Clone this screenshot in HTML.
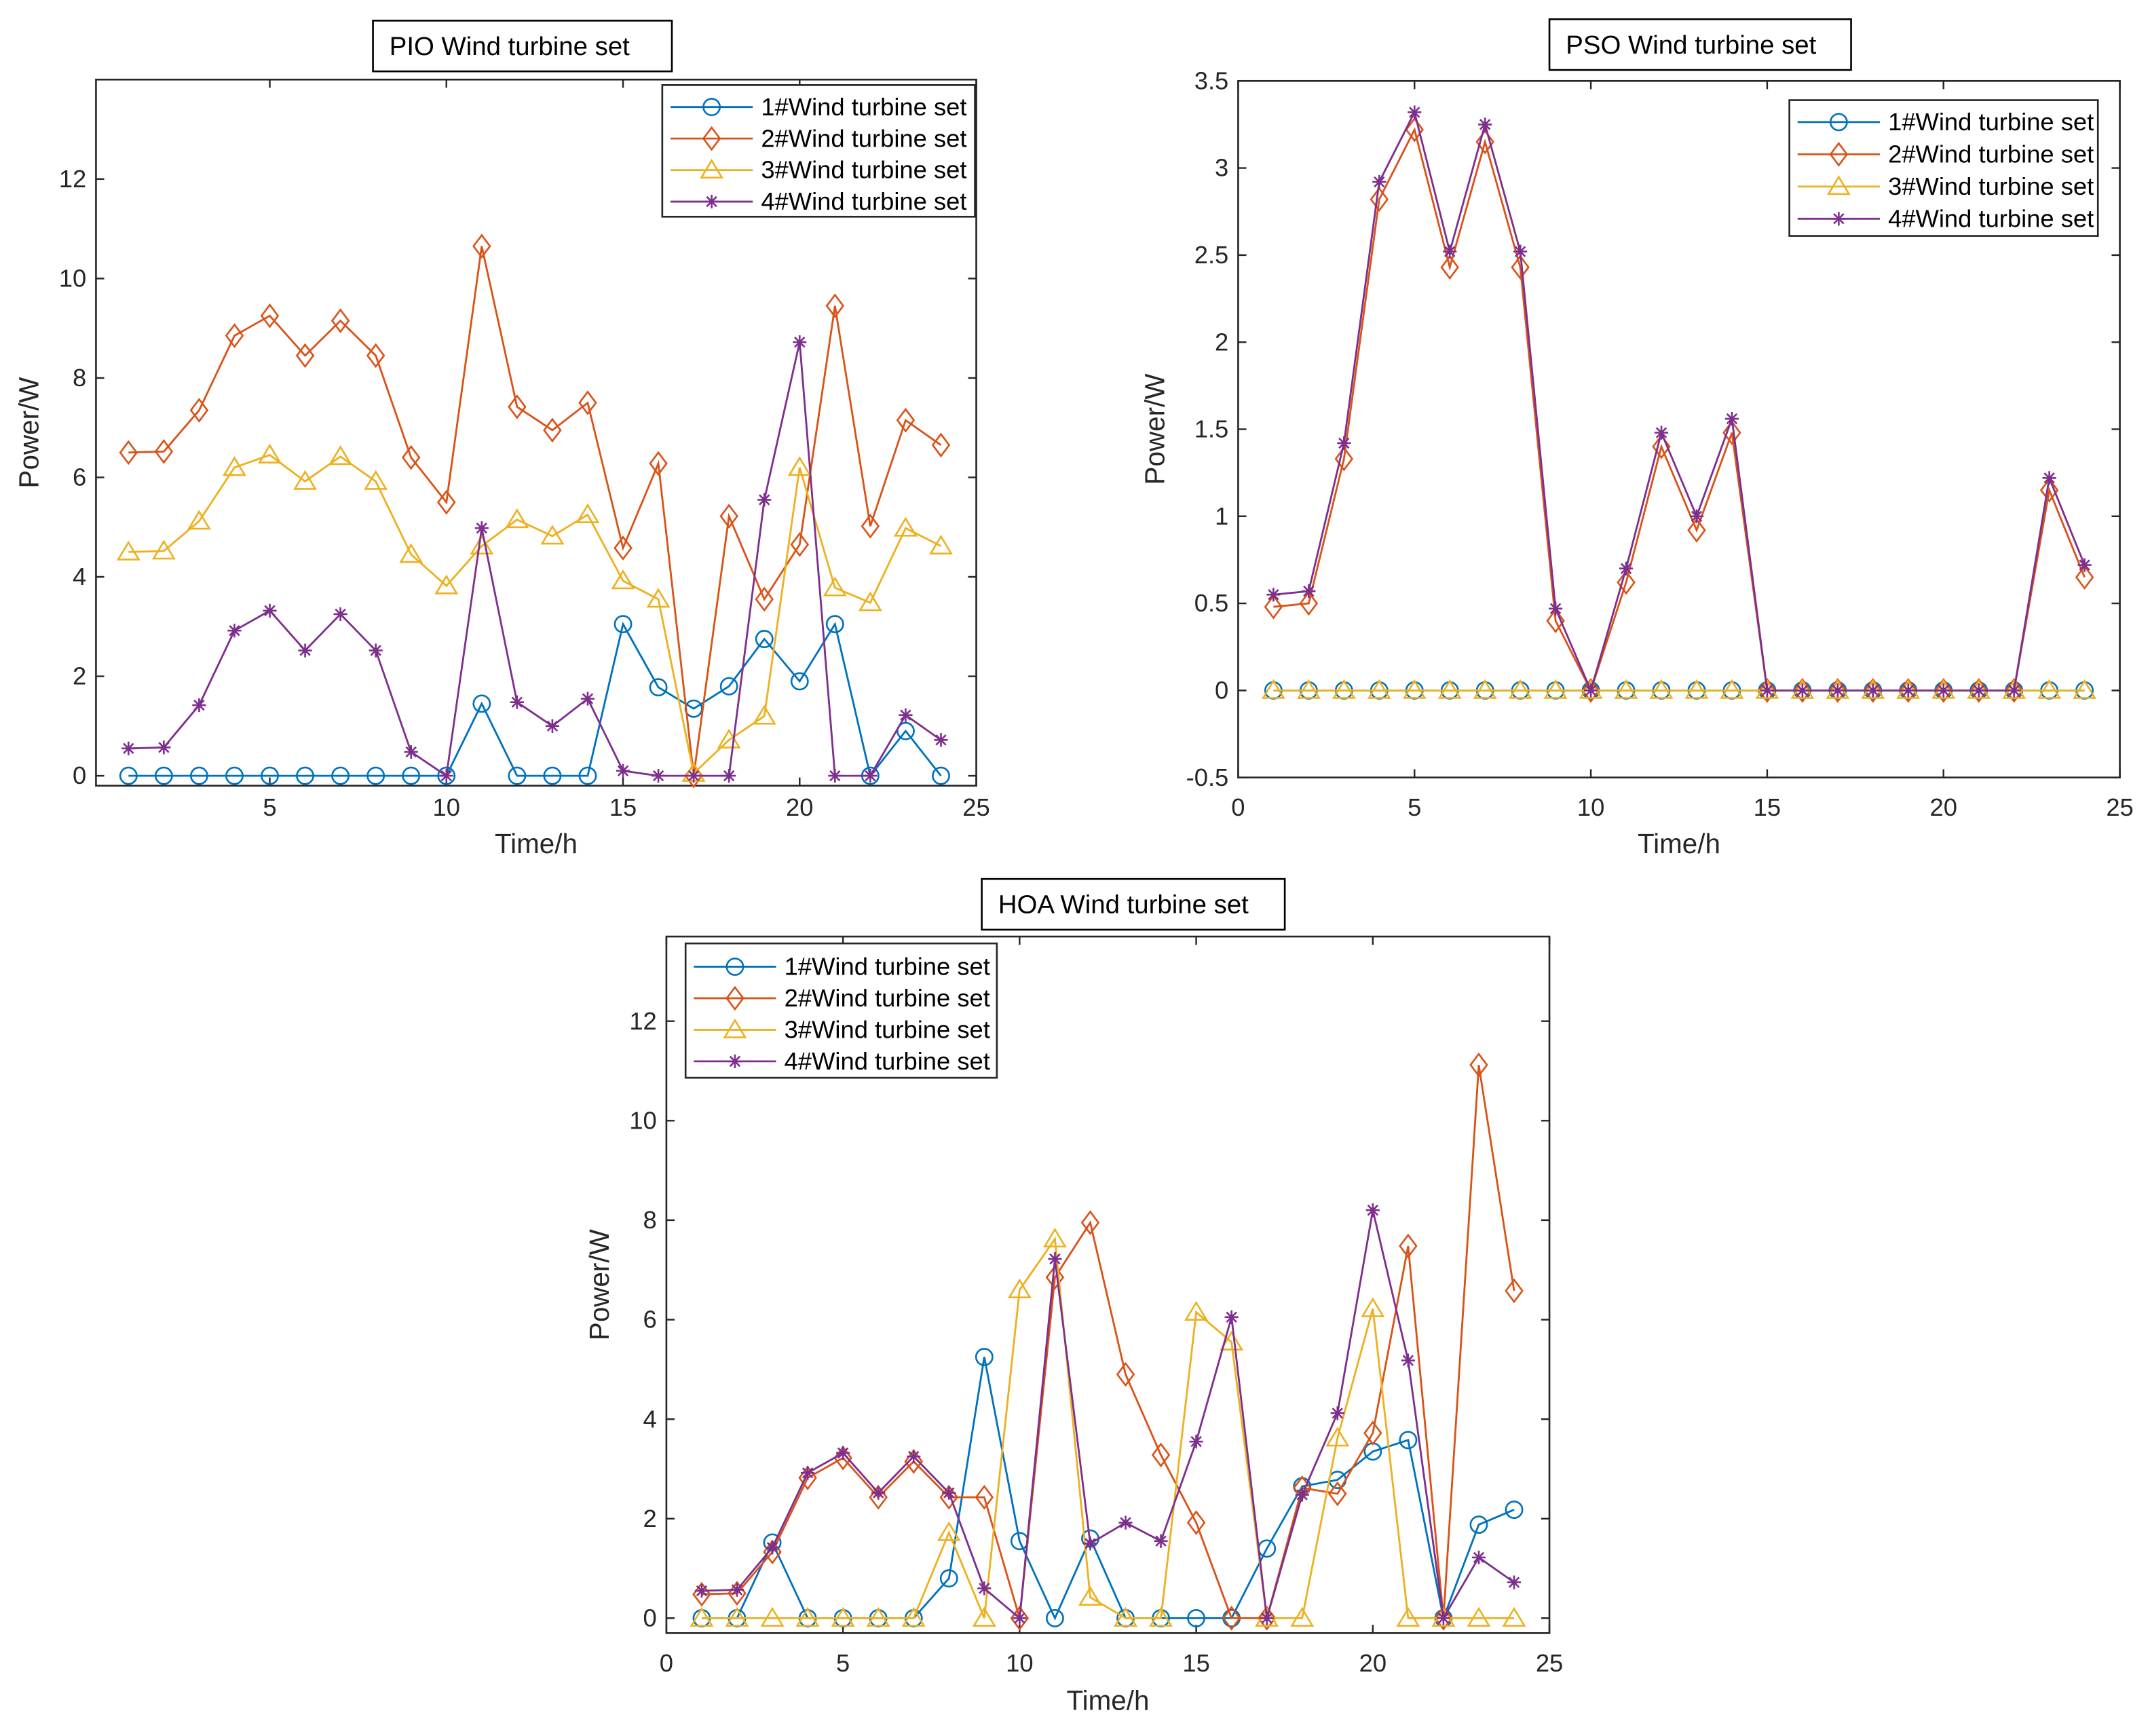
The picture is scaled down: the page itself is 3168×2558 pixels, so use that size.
<!DOCTYPE html>
<html><head><meta charset="utf-8"><style>
html,body{margin:0;padding:0;background:#fff}
svg{display:block;font-family:"Liberation Sans",Arial,sans-serif}
</style></head><body>
<svg id="fig" width="3168" height="2558" viewBox="0 0 1568 1266" xmlns="http://www.w3.org/2000/svg"></svg>
<script>
const hours = [1,2,3,4,5,6,7,8,9,10,11,12,13,14,15,16,17,18,19,20,21,22,23,24];
const seriesNames = ["1#Wind turbine set","2#Wind turbine set","3#Wind turbine set","4#Wind turbine set"];
const pio1 = [0,0,0,0,0,0,0,0,0,0,1.45,0,0,0,3.05,1.78,1.35,1.8,2.75,1.9,3.05,0,0.9,0];
const pio2 = [6.5,6.52,7.35,8.85,9.25,8.45,9.15,8.45,6.4,5.5,10.65,7.42,6.95,7.5,4.58,6.28,0,5.22,3.55,4.65,9.45,5.02,7.15,6.65];
const pio3 = [4.5,4.52,5.12,6.2,6.45,5.92,6.42,5.92,4.45,3.82,4.62,5.15,4.82,5.25,3.92,3.55,0.05,0.72,1.2,6.2,3.78,3.48,4.98,4.62];
const pio4 = [0.55,0.57,1.42,2.92,3.32,2.52,3.25,2.52,0.48,0,4.98,1.48,1.0,1.55,0.1,0,0,0,5.55,8.72,0,0,1.22,0.72];
const pso1 = [0,0,0,0,0,0,0,0,0,0,0,0,0,0,0,0,0,0,0,0,0,0,0,0];
const pso2 = [0.48,0.5,1.33,2.82,3.22,2.43,3.15,2.43,0.4,0,0.62,1.4,0.92,1.48,0,0,0,0,0,0,0,0,1.15,0.65];
const pso3 = [0,0,0,0,0,0,0,0,0,0,0,0,0,0,0,0,0,0,0,0,0,0,0,0];
const pso4 = [0.55,0.57,1.42,2.92,3.32,2.52,3.25,2.52,0.47,0,0.7,1.48,1.0,1.56,0,0,0,0,0,0,0,0,1.22,0.72];
const hoa1 = [0,0,1.52,0,0,0,0,0.8,5.25,1.55,0,1.6,0,0,0,0,1.4,2.65,2.78,3.35,3.58,0,1.88,2.18];
const hoa2 = [0.48,0.5,1.33,2.82,3.22,2.43,3.15,2.43,2.43,0,6.85,7.95,4.9,3.28,1.92,0,0,2.62,2.5,3.72,7.48,0,11.12,6.58];
const hoa3 = [0,0,0,0,0,0,0,1.72,0,6.6,7.62,0.42,0,0,6.15,5.55,0,0,3.62,6.22,0,0,0,0];
const hoa4 = [0.55,0.57,1.42,2.92,3.32,2.52,3.25,2.52,0.6,0,7.22,1.5,1.92,1.55,3.55,6.05,0,2.48,4.12,8.2,5.18,0,1.22,0.72];
const xTicks1 = [5,10,15,20,25];
const xTicks0 = [0,5,10,15,20,25];
const yTicksW = [0,2,4,6,8,10,12];
const yTicksPSO = [-0.5,0,0.5,1,1.5,2,2.5,3,3.5];

const colors = ["#0072BD","#D95319","#EDB120","#7E2F8E"];
const markers = ["circle","diamond","triangle","star"];
const NS = "http://www.w3.org/2000/svg";
const svg = document.getElementById("fig");
function mk(tag, attrs, parent){
  const e = document.createElementNS(NS, tag);
  for (const k in attrs) e.setAttribute(k, attrs[k]);
  (parent||svg).appendChild(e);
  return e;
}
function marker(g, type, x, y, c){
  let e;
  if (type==="circle"){ e = mk("circle",{cx:x,cy:y,r:6,fill:"none",stroke:c,"stroke-width":1.3},g); }
  else if (type==="diamond"){ e = mk("path",{d:`M${x} ${y-8}L${x+6} ${y}L${x} ${y+8}L${x-6} ${y}Z`,fill:"none",stroke:c,"stroke-width":1.3},g); }
  else if (type==="triangle"){ e = mk("path",{d:`M${x} ${y-7}L${x+7.5} ${y+5.5}L${x-7.5} ${y+5.5}Z`,fill:"none",stroke:c,"stroke-width":1.3},g); }
  else { e = mk("path",{d:`M${x-5} ${y}H${x+5}M${x} ${y-5}V${y+5}M${x-3.6} ${y-3.6}L${x+3.6} ${y+3.6}M${x-3.6} ${y+3.6}L${x+3.6} ${y-3.6}`,fill:"none",stroke:c,"stroke-width":1.3},g); }
  return e;
}
function panel(o){
  const g = mk("g",{});
  
  
  const X = v => o.x0 + (v - o.xmin)/(o.xmax - o.xmin)*(o.x1 - o.x0);
  const Y = v => o.y1 - (v - o.ymin)/(o.ymax - o.ymin)*(o.y1 - o.y0);
  mk("rect",{x:o.x0,y:o.y0,width:o.x1-o.x0,height:o.y1-o.y0,fill:"#fff",stroke:"#262626","stroke-width":1.3},g);
  const ax = mk("g",{},g);
  
  
  o.xt.forEach(t=>{
    const x = X(t);
    mk("path",{d:`M${x} ${o.y1}V${o.y1-6}M${x} ${o.y0}V${o.y0+6}`,stroke:"#262626","stroke-width":1.2},ax);
    const tx = mk("text",{x:x,y:o.xty,"text-anchor":"middle","font-size":18,fill:"#262626"},ax);
    tx.textContent = t;
  });
  const ay = mk("g",{},g);
  
  
  o.yt.forEach(t=>{
    const y = Y(t);
    mk("path",{d:`M${o.x0} ${y}H${o.x0+6}M${o.x1} ${y}H${o.x1-6}`,stroke:"#262626","stroke-width":1.2},ay);
    const tx = mk("text",{x:o.x0-7,y:y+6,"text-anchor":"end","font-size":18,fill:"#262626"},ay);
    tx.textContent = t;
  });
  const xl = mk("text",{x:(o.x0+o.x1)/2,y:o.xly,"text-anchor":"middle","font-size":20,fill:"#262626"},g);
  
  
  xl.textContent = "Time/h";
  const yl = mk("text",{x:0,y:0,"text-anchor":"middle","font-size":20,fill:"#262626",transform:`translate(${o.ylx},${(o.y0+o.y1)/2}) rotate(-90)`},g);
  
  
  yl.textContent = "Power/W";
  o.data.forEach((arr,i)=>{
    const sg = mk("g",{},g);
    
    
    const pts = hours.map((h,j)=>X(h)+","+Y(arr[j])).join(" ");
    mk("polyline",{points:pts,fill:"none",stroke:colors[i],"stroke-width":1.4},sg);
    hours.forEach((h,j)=>{
      const m = marker(sg, markers[i], X(h), Y(arr[j]), colors[i]);
      
      
    });
  });
  const tg = mk("g",{},g);
  
  
  mk("rect",{x:o.tb[0],y:o.tb[1],width:o.tb[2],height:o.tb[3],fill:"#fff",stroke:"#000","stroke-width":1.3},tg);
  const tt = mk("text",{x:o.tb[0]+12,y:o.tb[1]+25,"font-size":19,fill:"#000"},tg);
  tt.textContent = o.title;
  const lg = mk("g",{},g);
  
  
  const L = o.lg;
  mk("rect",{x:L[0],y:L[1],width:L[2],height:L[3],fill:"#fff",stroke:"#262626","stroke-width":1.3},lg);
  seriesNames.forEach((n,i)=>{
    const ey = L[4] + i*L[5];
    const eg = mk("g",{},lg);
    
    
    mk("line",{x1:L[0]+6,y1:ey,x2:L[0]+66,y2:ey,stroke:colors[i],"stroke-width":1.4},eg);
    marker(eg, markers[i], L[0]+36, ey, colors[i]);
    const t = mk("text",{x:L[0]+72,y:ey+6,"font-size":18,fill:"#000"},eg);
    t.textContent = n;
  });
}
panel({name:"pio-chart",title:"PIO Wind turbine set",x0:70,x1:712,y0:58,y1:573,xmin:0.08,xmax:25,ymin:-0.2,ymax:14,
  xt:xTicks1,yt:yTicksW,ylx:28,xty:595,xly:622,data:[pio1,pio2,pio3,pio4],tb:[272,15,218,37],lg:[483,62,228,96,78,23]});
panel({name:"pso-chart",title:"PSO Wind turbine set",x0:903,x1:1546,y0:59,y1:567,xmin:0,xmax:25,ymin:-0.5,ymax:3.5,
  xt:xTicks0,yt:yTicksPSO,ylx:849,xty:595,xly:622,data:[pso1,pso2,pso3,pso4],tb:[1130,14,220,37],lg:[1305,73,225,99,89,23.5]});
panel({name:"hoa-chart",title:"HOA Wind turbine set",x0:486,x1:1130,y0:683,y1:1191,xmin:0,xmax:25,ymin:-0.3,ymax:13.7,
  xt:xTicks0,yt:yTicksW,ylx:444,xty:1219,xly:1247,data:[hoa1,hoa2,hoa3,hoa4],tb:[716,641,221,37],lg:[500,688,227,98,705,23]});
</script>
</body></html>
